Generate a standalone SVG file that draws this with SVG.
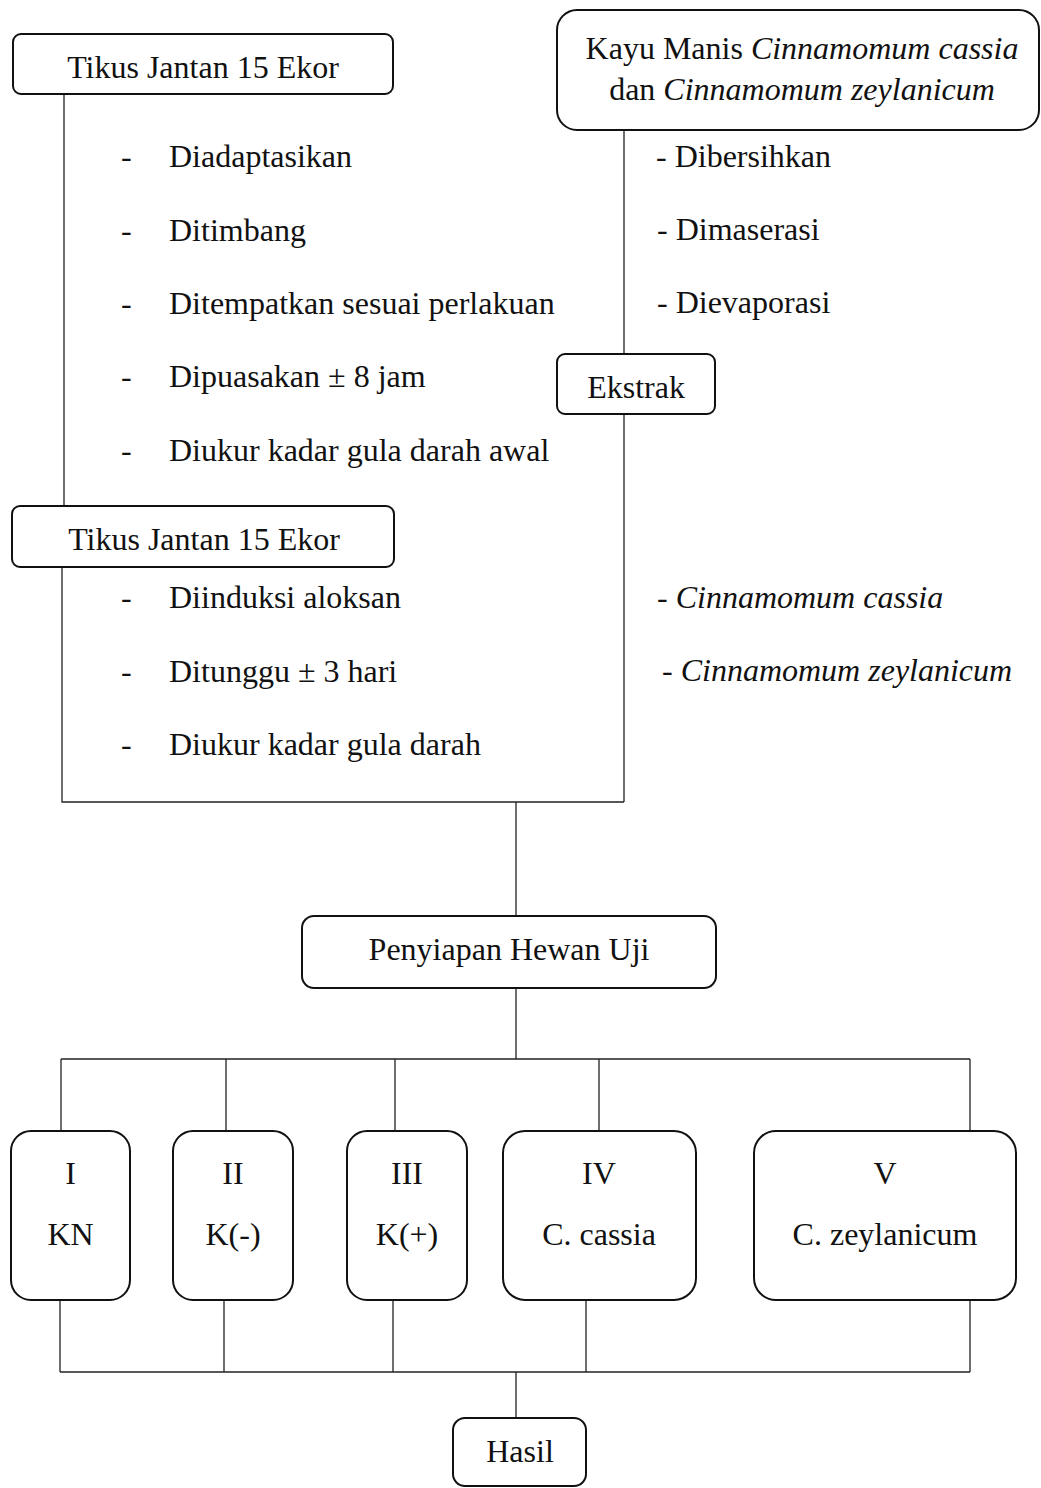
<svg xmlns="http://www.w3.org/2000/svg" width="1041" height="1488" viewBox="0 0 1041 1488">
<style>
text{font-family:"Liberation Serif","Times New Roman",serif;font-size:32px;fill:#111}
.c{text-anchor:middle}
.i{font-style:italic}
.box{fill:#fff;stroke:#111;stroke-width:2}
.ln{fill:none;stroke:#222;stroke-width:1.3}
</style>
<rect width="1041" height="1488" fill="#fff"/>
<g id="connectors">
<path class="ln" d="M64 94V506M62 567V802H624M624 130V354M624 414V802"/>
<path class="ln" d="M516 802V916M516 988V1059M61 1059H970M61 1059V1131M226 1059V1131M395 1059V1131M599 1059V1131M970 1059V1131"/>
<path class="ln" d="M60 1300V1372M224 1300V1372M393 1300V1372M586 1300V1372M970 1300V1372M60 1372H970M516 1372V1418"/>
</g>
<g id="tikus1">
<rect class="box" x="13" y="34" width="380" height="60" rx="8"/>
<text class="c" x="203" y="78">Tikus Jantan 15 Ekor</text>
</g>
<g id="list1">
<text x="121" y="167">-</text><text x="169" y="167">Diadaptasikan</text>
<text x="121" y="241">-</text><text x="169" y="241">Ditimbang</text>
<text x="121" y="314">-</text><text x="169" y="314">Ditempatkan sesuai perlakuan</text>
<text x="121" y="387">-</text><text x="169" y="387">Dipuasakan ± 8 jam</text>
<text x="121" y="461">-</text><text x="169" y="461">Diukur kadar gula darah awal</text>
</g>
<g id="kayumanis">
<rect class="box" x="557" y="10" width="482" height="120" rx="20"/>
<text class="c" x="802" y="59">Kayu Manis <tspan class="i">Cinnamomum cassia</tspan></text>
<text class="c" x="802" y="100">dan <tspan class="i">Cinnamomum zeylanicum</tspan></text>
</g>
<g id="list2">
<text x="656" y="167">- Dibersihkan</text>
<text x="657" y="240">- Dimaserasi</text>
<text x="657" y="313">- Dievaporasi</text>
</g>
<g id="ekstrak">
<rect class="box" x="557" y="354" width="158" height="60" rx="8"/>
<text class="c" x="636" y="398">Ekstrak</text>
</g>
<g id="tikus2">
<rect class="box" x="12" y="506" width="382" height="61" rx="8"/>
<text class="c" x="204" y="550">Tikus Jantan 15 Ekor</text>
</g>
<g id="list3">
<text x="121" y="608">-</text><text x="169" y="608">Diinduksi aloksan</text>
<text x="121" y="682">-</text><text x="169" y="682">Ditunggu ± 3 hari</text>
<text x="121" y="755">-</text><text x="169" y="755">Diukur kadar gula darah</text>
</g>
<g id="list4">
<text x="657" y="608">- <tspan class="i">Cinnamomum cassia</tspan></text>
<text x="662" y="681">- <tspan class="i">Cinnamomum zeylanicum</tspan></text>
</g>
<g id="penyiapan">
<rect class="box" x="302" y="916" width="414" height="72" rx="12"/>
<text class="c" x="509" y="960">Penyiapan Hewan Uji</text>
</g>
<g id="g1">
<rect class="box" x="11" y="1131" width="119" height="169" rx="20"/>
<text class="c" x="70.5" y="1184">I</text>
<text class="c" x="70.5" y="1245">KN</text>
</g>
<g id="g2">
<rect class="box" x="173" y="1131" width="120" height="169" rx="20"/>
<text class="c" x="233" y="1184">II</text>
<text class="c" x="233" y="1245">K(-)</text>
</g>
<g id="g3">
<rect class="box" x="347" y="1131" width="120" height="169" rx="20"/>
<text class="c" x="407" y="1184">III</text>
<text class="c" x="407" y="1245">K(+)</text>
</g>
<g id="g4">
<rect class="box" x="503" y="1131" width="193" height="169" rx="22"/>
<text class="c" x="599" y="1184">IV</text>
<text class="c" x="599" y="1245">C. cassia</text>
</g>
<g id="g5">
<rect class="box" x="754" y="1131" width="262" height="169" rx="22"/>
<text class="c" x="885" y="1184">V</text>
<text class="c" x="885" y="1245">C. zeylanicum</text>
</g>
<g id="hasil">
<rect class="box" x="453" y="1418" width="133" height="68" rx="12"/>
<text class="c" x="520" y="1462">Hasil</text>
</g>
</svg>
